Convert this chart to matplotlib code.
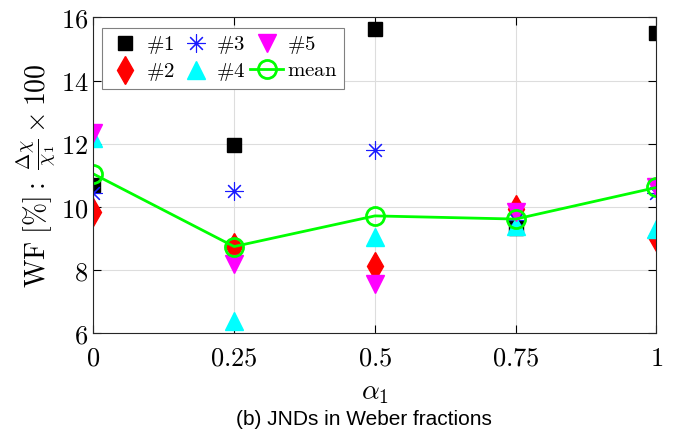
"""JNDs in Weber fractions vs alpha_1."""

import matplotlib
matplotlib.use("Agg")
import matplotlib.pyplot as plt

plt.rcParams["mathtext.fontset"] = "cm"
plt.rcParams["font.family"] = "serif"

alpha = [0, 0.25, 0.5, 0.75, 1]
s1 = [10.7, 11.95, 15.65, 9.35, 15.5]
s2 = [9.85, 8.75, 8.15, 9.95, 9.05]
s3 = [10.45, 10.5, 11.8, 9.6, 10.45]
s4 = [12.2, 6.4, 9.05, 9.4, 9.3]
s5 = [12.35, 8.2, 7.55, 9.85, 10.65]
media = [11.05, 8.75, 9.72, 9.62, 10.62]

xticks = [0, 0.25, 0.5, 0.75, 1]
xtick_labels = ["0", "0.25", "0.5", "0.75", "1"]
yticks = [6, 8, 10, 12, 14, 16]

fig = plt.figure(figsize=(6.81, 4.37), dpi=100)
ax = fig.add_axes([0.137, 0.237, 0.827, 0.723])

ax.plot(alpha, s1, "s", color="black", markersize=10, label=r"$\#1$", linestyle="none")
ax.plot(alpha, s2, "d", color="#ff0000", markersize=14, label=r"$\#2$", linestyle="none")
ax.plot(alpha, s3, marker=(8, 2, 0), color="#1a1aff", markersize=13, markeredgewidth=0.8,
        label=r"$\#3$", linestyle="none")
ax.plot(alpha, s4, "^", color="#00ffff", markersize=13, label=r"$\#4$", linestyle="none")
ax.plot(alpha, s5, "v", color="#ff00ff", markersize=13, label=r"$\#5$", linestyle="none")
ax.plot(alpha, media, "o-", color="#00ff00", markersize=13, markerfacecolor="none",
        markeredgewidth=2, linewidth=2, label=r"$\mathrm{mean}$")

ax.set_xlim(0, 1)
ax.set_ylim(6, 16)
ax.set_xticks(xticks)
ax.set_xticklabels(["$" + t + "$" for t in xtick_labels])
ax.set_yticks(yticks)
ax.set_yticklabels(["$%d$" % v for v in yticks])
ax.tick_params(direction="in", top=True, right=True, labelsize=19, length=6, width=0.8)
ax.tick_params(axis="x", pad=9)
ax.grid(color="#dddddd", linewidth=0.8)
ax.set_axisbelow(True)
for sp in ax.spines.values():
    sp.set_linewidth(0.8)
    sp.set_color("#262626")

ax.set_xlabel(r"$\alpha_1$", fontsize=20, labelpad=6)
ax.set_ylabel(r"$\mathrm{WF}\ [\%]:\ \frac{\Delta\chi}{\chi_1}\times 100$", fontsize=20, labelpad=2)

leg = ax.legend(loc="upper left", ncol=3, fontsize=15, frameon=True, fancybox=False,
                edgecolor="#808080", framealpha=1, handlelength=1.6, handletextpad=0.2,
                columnspacing=0.2, borderpad=0.3, labelspacing=0.25, borderaxespad=0,
                bbox_to_anchor=(0.016, 0.968))
leg.get_frame().set_linewidth(0.8)

fig.text(0.535, 0.039, "(b) JNDs in Weber fractions", fontsize=15,
         family="Liberation Sans", ha="center", va="center")

fig.savefig("out.png", dpi=100)
